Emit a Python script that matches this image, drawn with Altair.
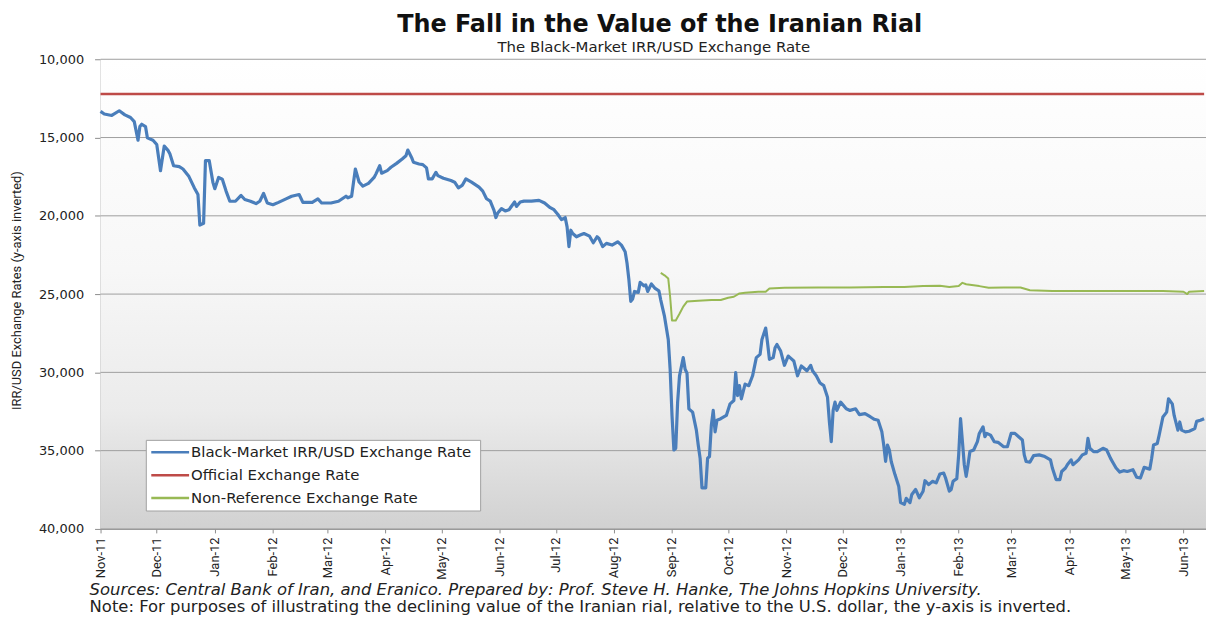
import altair as alt
import pandas as pd

# ---------------- data ----------------
bm_dates = [
    "2011-11-01", "2011-11-03", "2011-11-07", "2011-11-11", "2011-11-14", "2011-11-17", "2011-11-19",
    "2011-11-21", "2011-11-22", "2011-11-23", "2011-11-25", "2011-11-26", "2011-11-29", "2011-12-01",
    "2011-12-03", "2011-12-05", "2011-12-07", "2011-12-08", "2011-12-10", "2011-12-13", "2011-12-15",
    "2011-12-18", "2011-12-21", "2011-12-23", "2011-12-24", "2011-12-26", "2011-12-27", "2011-12-29",
    "2011-12-31",
    "2012-01-01", "2012-01-03", "2012-01-05", "2012-01-07", "2012-01-09", "2012-01-12", "2012-01-15",
    "2012-01-17", "2012-01-20", "2012-01-23", "2012-01-25", "2012-01-27", "2012-01-29", "2012-02-01",
    "2012-02-04", "2012-02-08", "2012-02-11", "2012-02-15", "2012-02-17", "2012-02-22", "2012-02-25",
    "2012-02-27", "2012-03-03", "2012-03-07", "2012-03-11", "2012-03-12", "2012-03-14", "2012-03-16",
    "2012-03-18", "2012-03-20", "2012-03-23", "2012-03-26", "2012-03-27", "2012-03-29", "2012-03-30",
    "2012-04-02", "2012-04-04", "2012-04-07", "2012-04-10", "2012-04-12", "2012-04-13", "2012-04-15",
    "2012-04-16", "2012-04-19", "2012-04-21", "2012-04-23", "2012-04-24", "2012-04-26", "2012-04-28",
    "2012-04-29", "2012-05-02", "2012-05-06", "2012-05-08", "2012-05-10", "2012-05-12", "2012-05-14",
    "2012-05-17", "2012-05-21", "2012-05-23", "2012-05-25", "2012-05-27", "2012-05-29", "2012-05-30",
    "2012-05-31", "2012-06-02", "2012-06-04", "2012-06-06", "2012-06-09", "2012-06-10", "2012-06-12",
    "2012-06-14", "2012-06-18", "2012-06-22", "2012-06-25", "2012-06-28", "2012-06-30", "2012-07-02",
    "2012-07-04", "2012-07-06", "2012-07-07", "2012-07-08", "2012-07-09", "2012-07-10", "2012-07-12",
    "2012-07-14", "2012-07-16", "2012-07-19", "2012-07-21", "2012-07-23", "2012-07-24", "2012-07-26",
    "2012-07-28", "2012-07-31", "2012-08-03", "2012-08-05", "2012-08-07", "2012-08-08", "2012-08-09",
    "2012-08-10", "2012-08-11", "2012-08-12", "2012-08-14", "2012-08-15", "2012-08-17", "2012-08-18",
    "2012-08-19", "2012-08-21", "2012-08-23", "2012-08-25", "2012-08-26", "2012-08-28", "2012-08-30",
    "2012-08-31", "2012-09-01", "2012-09-02", "2012-09-03", "2012-09-04", "2012-09-05", "2012-09-07",
    "2012-09-08", "2012-09-09", "2012-09-10", "2012-09-12", "2012-09-14", "2012-09-15", "2012-09-16",
    "2012-09-17", "2012-09-19", "2012-09-20", "2012-09-21", "2012-09-22", "2012-09-23", "2012-09-24",
    "2012-09-25", "2012-09-27", "2012-09-30", "2012-10-02", "2012-10-04", "2012-10-05", "2012-10-06",
    "2012-10-07", "2012-10-08", "2012-10-10", "2012-10-12", "2012-10-14", "2012-10-16", "2012-10-18",
    "2012-10-19", "2012-10-21", "2012-10-22", "2012-10-23", "2012-10-25", "2012-10-26", "2012-10-27",
    "2012-10-29", "2012-10-31", "2012-11-02", "2012-11-03", "2012-11-05", "2012-11-07", "2012-11-09",
    "2012-11-10", "2012-11-12", "2012-11-14", "2012-11-15", "2012-11-17", "2012-11-19", "2012-11-21",
    "2012-11-23", "2012-11-24", "2012-11-25", "2012-11-26", "2012-11-27", "2012-11-28", "2012-11-30",
    "2012-12-03", "2012-12-05", "2012-12-08", "2012-12-10", "2012-12-13", "2012-12-16", "2012-12-18",
    "2012-12-20", "2012-12-22", "2012-12-23", "2012-12-24", "2012-12-25", "2012-12-26", "2012-12-27",
    "2012-12-29", "2012-12-31",
    "2013-01-01", "2013-01-03", "2013-01-04", "2013-01-06", "2013-01-07", "2013-01-09", "2013-01-11",
    "2013-01-13", "2013-01-14", "2013-01-16", "2013-01-18", "2013-01-20", "2013-01-22", "2013-01-24",
    "2013-01-25", "2013-01-27", "2013-01-28", "2013-01-29", "2013-01-31", "2013-02-01", "2013-02-02",
    "2013-02-03", "2013-02-04", "2013-02-05", "2013-02-06", "2013-02-07", "2013-02-09", "2013-02-11",
    "2013-02-12", "2013-02-14", "2013-02-15", "2013-02-16", "2013-02-18", "2013-02-20", "2013-02-22",
    "2013-02-25", "2013-02-27", "2013-03-01", "2013-03-03", "2013-03-05", "2013-03-07", "2013-03-08",
    "2013-03-09", "2013-03-11", "2013-03-13", "2013-03-16", "2013-03-19", "2013-03-22", "2013-03-23",
    "2013-03-25", "2013-03-27", "2013-03-28", "2013-03-30", "2013-03-31", "2013-04-02", "2013-04-03",
    "2013-04-06", "2013-04-08", "2013-04-10", "2013-04-11", "2013-04-12", "2013-04-14", "2013-04-16",
    "2013-04-19", "2013-04-21", "2013-04-23", "2013-04-24", "2013-04-26", "2013-04-28", "2013-04-30",
    "2013-05-02", "2013-05-05", "2013-05-07", "2013-05-09", "2013-05-11", "2013-05-14", "2013-05-15",
    "2013-05-16", "2013-05-18", "2013-05-19", "2013-05-21", "2013-05-23", "2013-05-24", "2013-05-26",
    "2013-05-27", "2013-05-29", "2013-05-30", "2013-05-31", "2013-06-02", "2013-06-04", "2013-06-07",
    "2013-06-08", "2013-06-10", "2013-06-12",
]
bm_values = [
    13330, 13500, 13590, 13290, 13550, 13720, 13980,
    15170, 14300, 14150, 14300, 15020, 15170, 15450,
    17120, 15540, 15820, 16040, 16800, 16860, 17010,
    17450, 18200, 18640, 20590, 20480, 16470, 16470,
    17880,
    18270, 17550, 17660, 18420, 19070, 19070, 18700,
    18960, 19070, 19220, 19070, 18570, 19180, 19290,
    19140, 18920, 18750, 18640, 19140, 19140, 18920,
    19180, 19180, 19070, 18750, 18850, 18750, 17010,
    17840, 18100, 17930, 17550, 17320, 16800, 17280,
    17110, 16900, 16650, 16370, 16160, 15800, 16270,
    16580, 16690, 16730, 16940, 17640, 17640, 17220,
    17430, 17600, 17750, 17850, 18210, 18060, 17640,
    17850, 18170, 18420, 18910, 19060, 19650, 20110,
    19820, 19540, 19690, 19610, 19120, 19400, 19120,
    19060, 19060, 19010, 19180, 19480, 19610, 19900,
    20240, 20110, 20710, 21970, 20920, 21130, 21340,
    21230, 21130, 21300, 21720, 21340, 21450, 21970,
    21760, 21870, 21660, 21870, 22290, 23030, 24090,
    25460, 25310, 24830, 24890, 24250, 24470, 24410,
    24830, 24350, 24640, 24790, 25380, 26430, 27900,
    29800, 32750, 34960, 34850, 31900, 30220, 29060,
    29800, 30050, 32330, 32540, 33690, 34640, 35480,
    37380, 37380, 35480, 35380, 33380, 32430, 33800,
    33060, 32960, 32750, 32010, 31800, 30010, 31480,
    30850, 31690, 30750, 30850, 30220, 29060, 28850,
    27900, 27170, 28120, 29170, 29060, 28430, 28220,
    28640, 29550, 28960, 29060, 29270, 30220, 29590,
    29690, 29900, 29550, 29900, 30220, 30680, 30850,
    31590, 33170, 34430, 32430, 31900, 32430, 31900,
    32330, 32430, 32330, 32700, 32640, 32850, 33000,
    33060, 33800, 34640, 35690, 34640, 34960, 35690,
    36530, 37270,
    38320, 38430, 38050, 38320, 37800, 37480, 38010,
    37590, 36920, 37170, 36960, 37060, 36490, 36430,
    36750, 37590, 37480, 36960, 36790, 35270, 32960,
    34430, 35900, 36640, 35900, 35060, 34960, 34430,
    33900, 33480, 34110, 33900, 34010, 34430, 34470,
    34750, 34750, 33900, 33900, 34110, 34320, 35270,
    35690, 35740, 35320, 35270, 35380, 35590, 36110,
    36850, 36850, 36330, 36110, 35900, 35590, 35900,
    35590, 35270, 35170, 34220, 34850, 35060, 35060,
    34850, 34960, 35480, 35690, 36110, 36370, 36280,
    36330, 36220, 36700, 36750, 36070, 36180, 35480,
    34640, 34540, 34010, 32850, 32540, 31690, 32010,
    32750, 33690, 33170, 33690, 33800, 33760, 33590,
    33130, 33060, 32960,
]

nr_dates = [
    "2012-08-26", "2012-08-28", "2012-08-30", "2012-08-31", "2012-09-01", "2012-09-03", "2012-09-05",
    "2012-09-07", "2012-09-09", "2012-09-15", "2012-09-22", "2012-09-27", "2012-10-01", "2012-10-04",
    "2012-10-07", "2012-10-10", "2012-10-17", "2012-10-21", "2012-10-23", "2012-10-31", "2012-11-18",
    "2012-12-05", "2012-12-23", "2013-01-03", "2013-01-13", "2013-01-22", "2013-01-27", "2013-02-01",
    "2013-02-03", "2013-02-05", "2013-02-12", "2013-02-17", "2013-02-25", "2013-03-06", "2013-03-11",
    "2013-03-23", "2013-04-16", "2013-05-21", "2013-06-01", "2013-06-03", "2013-06-04", "2013-06-12",
]
nr_values = [
    23650, 23800, 24010, 25170, 26680, 26680, 26260,
    25800, 25480, 25420, 25380, 25380, 25230, 25170,
    24960, 24920, 24850, 24850, 24640, 24600, 24580,
    24580, 24540, 24540, 24490, 24470, 24540, 24490,
    24280, 24370, 24490, 24600, 24580, 24580, 24750,
    24810, 24810, 24810, 24850, 25000, 24850, 24810,
]

official_dates = ["2011-11-01", "2013-06-12"]
official_values = [12220, 12220]

series_names = [
    "Black-Market IRR/USD Exchange Rate",
    "Official Exchange Rate",
    "Non-Reference Exchange Rate",
]
series_colors = ["#4a7ebb", "#be4b48", "#98b954"]
series_widths = [3.2, 2, 2.5]
y_ticks = [10000, 15000, 20000, 25000, 30000, 35000, 40000]

title_text = "The Fall in the Value of the Iranian Rial"
subtitle_text = "The Black-Market IRR/USD Exchange Rate"
y_title = "IRR/USD Exchange Rates (y-axis inverted)"
source_note = ("Sources: Central Bank of Iran, and Eranico. Prepared by: Prof. Steve H. Hanke, "
               "The Johns Hopkins University.")
inversion_note = ("Note: For purposes of illustrating the declining value of the Iranian rial, "
                  "relative to the U.S. dollar, the y-axis is inverted.")

# ---------------- build ----------------
W, H = 1111, 472
VERDANA = "DejaVu Sans"
NARROW = "Liberation Sans Narrow, Roboto, sans-serif"

lines_df = pd.concat([
    pd.DataFrame({"date": bm_dates, "value": bm_values, "series": series_names[0]}),
    pd.DataFrame({"date": official_dates, "value": official_values, "series": series_names[1]}),
    pd.DataFrame({"date": nr_dates, "value": nr_values, "series": series_names[2]}),
], ignore_index=True)

y_enc = alt.Y(
    "value:Q",
    scale=alt.Scale(domain=[10000, 40000], reverse=True, nice=False, zero=False),
    axis=alt.Axis(
        values=y_ticks, format=",.0f", grid=False,
        labelFont=VERDANA, labelFontSize=13, labelColor="#222",
        domainColor="#8c8c8c", tickColor="#8c8c8c", tickSize=6, labelPadding=11,
        title=y_title, titleFont=NARROW, titleFontSize=13, titleFontWeight="normal",
        titleColor="#222", titleAngle=270, titleX=-84, titleY=232,
        titleAlign="center", titleBaseline="middle",
    ),
)

bg = alt.Chart(pd.DataFrame({"k": [0]})).mark_rect(
    fill=alt.LinearGradient(
        gradient="linear", x1=0, x2=0, y1=0, y2=1,
        stops=[
            alt.GradientStop(offset=0, color="#ffffff"),
            alt.GradientStop(offset=0.45, color="#f7f7f7"),
            alt.GradientStop(offset=0.75, color="#ebebeb"),
            alt.GradientStop(offset=1, color="#d1d1d1"),
        ],
    )
).encode(x=alt.value(0), x2=alt.value(W), y=alt.value(0), y2=alt.value(H))

grid = alt.Chart(pd.DataFrame({"value": y_ticks})).mark_rule(
    color="#9e9e9e", strokeWidth=1
).encode(y=y_enc)

lines = alt.Chart(lines_df).mark_line(strokeJoin="round").encode(
    x=alt.X(
        "date:T",
        scale=alt.Scale(
            type="utc", nice=False,
            domain=[alt.DateTime(year=2011, month=11, date=1, utc=True),
                    alt.DateTime(year=2013, month=6, date=13, utc=True)],
        ),
        axis=alt.Axis(
            format="%b-%y", labelAngle=270, labelFont=NARROW, labelFontSize=13,
            labelColor="#222", tickCount=alt.TimeIntervalStep(interval="month", step=1),
            grid=False, domainColor="#8c8c8c", tickColor="#8c8c8c", tickSize=4,
            labelPadding=4, title=None, labelOverlap=False,
        ),
    ),
    y=y_enc,
    color=alt.Color(
        "series:N",
        scale=alt.Scale(domain=series_names, range=series_colors),
        legend=None,
    ),
    strokeWidth=alt.StrokeWidth(
        "series:N", scale=alt.Scale(domain=series_names, range=series_widths), legend=None
    ),
)


def label(text, x, y, **kw):
    return alt.Chart(pd.DataFrame({"t": [text]})).mark_text(**kw).encode(
        text="t:N", x=alt.value(x), y=alt.value(y)
    )


# manual legend (box, line swatches, labels)
LX, LY, LW, LH, ROW = 46, 383, 336, 71, 23
legend_layers = [
    alt.Chart(pd.DataFrame({"k": [0]})).mark_rect(
        fill="white", stroke="#a0a0a0", strokeWidth=1
    ).encode(x=alt.value(LX), x2=alt.value(LX + LW), y=alt.value(LY), y2=alt.value(LY + LH))
]
for i, (name, col) in enumerate(zip(series_names, series_colors)):
    yy = LY + 12 + ROW * i
    legend_layers.append(
        alt.Chart(pd.DataFrame({"k": [0]})).mark_rule(color=col, strokeWidth=2.5).encode(
            x=alt.value(LX + 5), x2=alt.value(LX + 43), y=alt.value(yy)
        )
    )
    legend_layers.append(
        label(name, LX + 45, yy, font=VERDANA, fontSize=15, color="#222",
              align="left", baseline="middle")
    )

title = label(title_text, 562, -27, font="DejaVu Sans", fontSize=24, fontWeight="bold",
              color="#111", align="center", baseline="alphabetic")
subtitle = label(subtitle_text, 556, -7, font="DejaVu Sans", fontSize=15, color="#222",
                 align="center", baseline="alphabetic")
note1 = label(source_note, -11, 533, font=VERDANA, fontSize=16.5, fontStyle="italic",
              color="#222", align="left", baseline="middle")
note2 = label(inversion_note, -11, 551, font=VERDANA, fontSize=16.5, color="#222",
              align="left", baseline="middle")

chart = alt.layer(bg, grid, lines, *legend_layers, title, subtitle, note1, note2).properties(
    width=W, height=H,
    autosize=alt.AutoSizeParams(type="none"),
    padding={"left": 93, "top": 50, "right": 0, "bottom": 86},
    background="white",
).configure_view(stroke=None)

chart.save("out.html", embed_options={"renderer": "svg", "actions": False})
